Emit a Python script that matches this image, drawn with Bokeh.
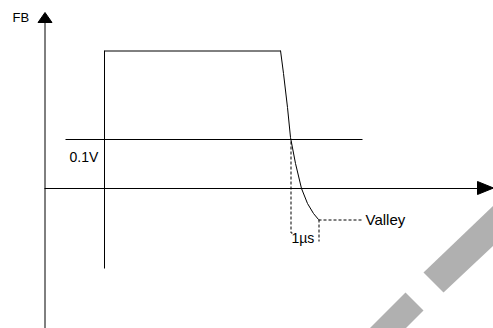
from bokeh.plotting import figure
from bokeh.models import Range1d
from bokeh.core.properties import value
from bokeh.embed import file_html
from bokeh.resources import INLINE

# Diagram values (pixel space of the reference drawing)
yaxis_x = [44.5, 44.5]
yaxis_y = [328, 21]
yarrow_x = [44.5, 37.5, 51.5]
yarrow_y = [12, 22, 22]
xaxis_x = [44, 478]
xaxis_y = [188, 188]
xarrow_x = [493, 477, 477]
xarrow_y = [187.5, 181, 194]

pulse_edge_x = [104, 104]
pulse_edge_y = [268, 50]
pulse_top_x = [104, 280]
pulse_top_y = [50.5, 50.5]

decay_x = [280, 283, 287, 290, 295, 301, 307, 313, 318]
decay_y = [50, 73, 107, 137, 163, 188, 203, 213, 219]

ref_x = [65, 362]
ref_y = [139, 139]

dash1_x = [290.5, 290.5, 293]
dash1_y = [141, 232.5, 232.5]
dash2_x = [318.5, 318.5]
dash2_y = [219, 241]
dash3_x = [318, 361]
dash3_y = [219.5, 219.5]

labels = ["FB", "0.1V", "1µs", "Valley"]
label_x = [12, 69, 291, 365]
label_y = [17, 156, 237, 219]
label_size = ["13px", "14px", "14px", "15px"]

wm_xs = [[423, 443, 493, 493], [405, 423, 405, 369]]
wm_ys = [[272, 292, 245, 205], [292, 310, 328, 328]]

p = figure(width=493, height=328, output_backend="svg", toolbar_location=None,
           x_range=Range1d(0, 493), y_range=Range1d(328, 0),
           x_axis_type=None, y_axis_type=None, min_border=0)
p.grid.visible = False
p.outline_line_color = None
p.background_fill_color = "white"
p.border_fill_color = "white"

p.patches(wm_xs, wm_ys, fill_color="#b0b0b0", line_color=None)

p.line(yaxis_x, yaxis_y, line_color="black", line_width=1)
p.patch(yarrow_x, yarrow_y, fill_color="black", line_color="black")
p.line(xaxis_x, xaxis_y, line_color="black", line_width=1)
p.patch(xarrow_x, xarrow_y, fill_color="black", line_color="black")

p.line(pulse_edge_x, pulse_edge_y, line_color="black", line_width=1)
p.line(pulse_top_x, pulse_top_y, line_color="black", line_width=1)
p.line(decay_x, decay_y, line_color="black", line_width=1)
p.line(ref_x, ref_y, line_color="black", line_width=1)

for dx, dy in [(dash1_x, dash1_y), (dash2_x, dash2_y), (dash3_x, dash3_y)]:
    p.line(dx, dy, line_color="black", line_width=1, line_dash="3 2")

for t, x, y, s in zip(labels, label_x, label_y, label_size):
    p.text([x], [y], text=[t], text_font=value("Liberation Sans"),
           text_font_size=s, text_align="left", text_baseline="middle",
           text_color="black")

open("out.html", "w").write(file_html(p, INLINE))
